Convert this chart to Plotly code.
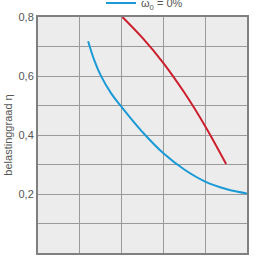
import plotly.graph_objects as go

# Data
blue_x = [1.20, 1.35, 1.50, 1.75, 2.00, 2.50, 3.00, 3.50, 4.00, 4.50, 5.00]
blue_y = [0.718, 0.652, 0.602, 0.541, 0.495, 0.410, 0.338, 0.283, 0.242, 0.217, 0.202]
red_x = [2.02, 2.50, 3.00, 3.50, 4.00, 4.50]
red_y = [0.800, 0.729, 0.644, 0.544, 0.430, 0.302]
blue_name = "ω<sub>0</sub> = 0%"
y_tickvals = [0.2, 0.4, 0.6, 0.8]
y_ticktext = ["0,2", "0,4", "0,6", "0,8"]
y_title = "belastinggraad η"

fig = go.Figure()
fig.add_trace(go.Scatter(x=blue_x, y=blue_y, mode="lines", name=blue_name,
                         line=dict(color="#1b9ad6", width=2, shape="spline", smoothing=1.2)))
fig.add_trace(go.Scatter(x=red_x, y=red_y, mode="lines", name="red", showlegend=False,
                         line=dict(color="#cc1f2e", width=2, shape="spline", smoothing=1.0)))

fig.update_layout(
    width=256, height=256,
    margin=dict(l=38, r=9, t=17, b=3, autoexpand=False),
    paper_bgcolor="white", plot_bgcolor="#ececec",
    font=dict(family="Liberation Sans, Arial, sans-serif", size=11, color="#555"),
    separators=", ",
    showlegend=True,
    legend=dict(x=(101 - 38) / 209, xanchor="left", y=1.0 + 14 / 236, yanchor="middle",
                bgcolor="rgba(0,0,0,0)", borderwidth=0, font=dict(size=11, color="#555")),
    xaxis=dict(range=[0, 5], dtick=1, showticklabels=False, showgrid=True,
               gridcolor="#9a9a9a", gridwidth=1, zeroline=False,
               showline=True, mirror=True, linecolor="#808080", linewidth=2, ticks=""),
    yaxis=dict(range=[0, 0.8], tickvals=y_tickvals, ticktext=y_ticktext,
               showgrid=True, gridcolor="#9a9a9a", gridwidth=1, zeroline=False,
               minor=dict(dtick=0.1, tick0=0, showgrid=True, gridcolor="#9a9a9a", gridwidth=1, ticks=""),
               showline=True, mirror=True, linecolor="#808080", linewidth=2, ticks="",
               title=dict(text=y_title, standoff=4, font=dict(size=11, color="#555")),
               tickfont=dict(size=11, color="#555")),
)

fig.write_html("out.html")
